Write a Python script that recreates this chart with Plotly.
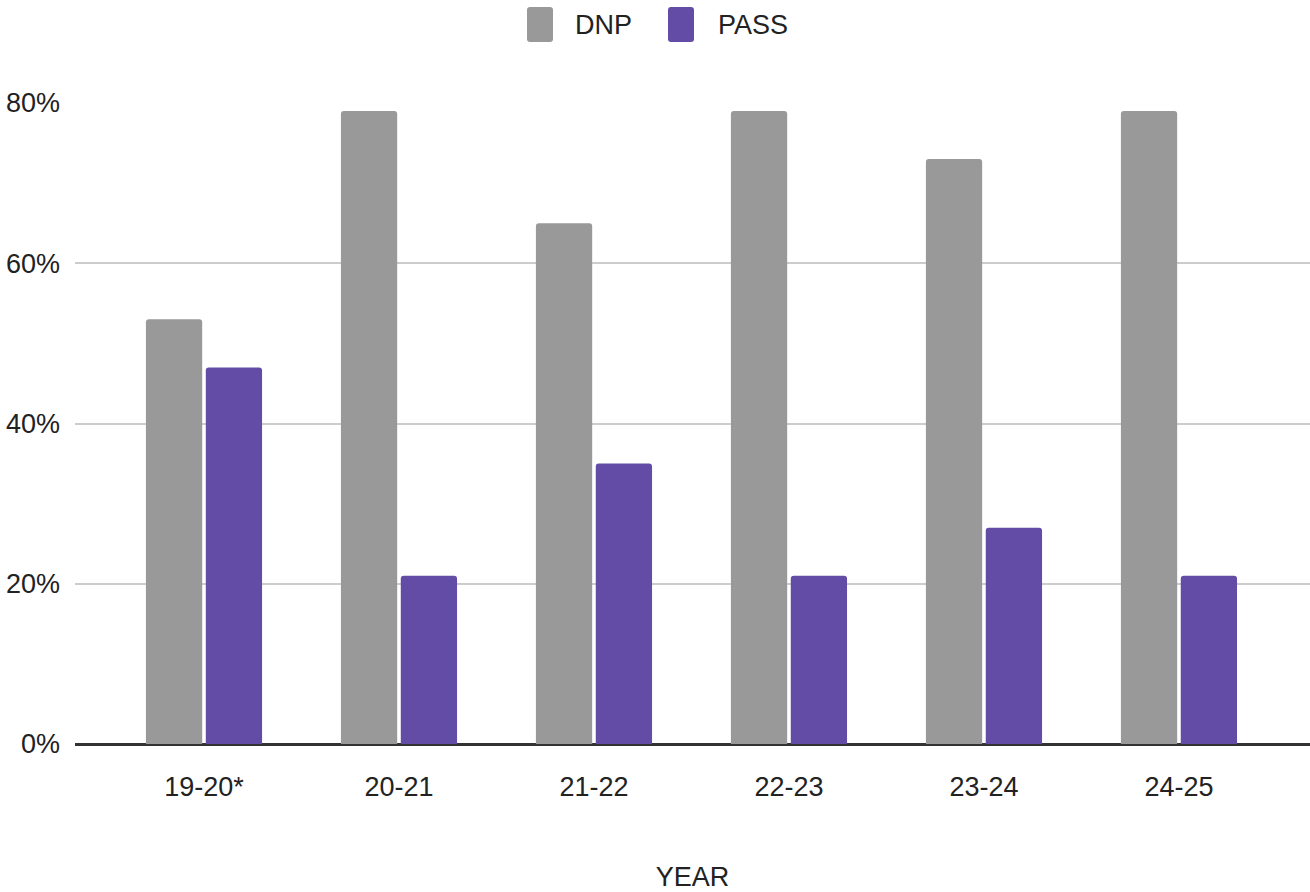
import plotly.graph_objects as go

years = ["19-20*", "20-21", "21-22", "22-23", "23-24", "24-25"]
dnp = [53, 79, 65, 79, 73, 79]
pass_ = [47, 21, 35, 21, 27, 21]
tick_vals = [0, 20, 40, 60, 80]
tick_text = ["0%", "20%", "40%", "60%", "80%"]
series_names = ["DNP", "PASS"]
series_colors = ["#999999", "#634ca5"]

FONT = "Liberation Sans, Arial, sans-serif"
TXT = "#222222"
W, H = 1310, 892

fig = go.Figure()
for name, vals, col in zip(series_names, [dnp, pass_], series_colors):
    fig.add_trace(go.Bar(name=name, x=years, y=vals, marker_color=col,
                         marker_line_width=0, showlegend=False))

# manual legend (pixel-based, converted to paper coordinates)
L, R, T, B = 75, 0, 103, 148
pw, ph = W - L - R, H - T - B
def px_x(x):
    return (x - L) / pw
def px_y(y):
    return (H - B - y) / ph

def rounded_rect(x0, y0, x1, y1, r):
    # pixel coords; y0 top, y1 bottom
    rx, ry = r / pw, r / ph
    X0, X1 = px_x(x0), px_x(x1)
    Y0, Y1 = px_y(y0), px_y(y1)  # Y0 > Y1
    return (f"M{X0+rx},{Y0} L{X1-rx},{Y0} Q{X1},{Y0} {X1},{Y0-ry} L{X1},{Y1+ry} "
            f"Q{X1},{Y1} {X1-rx},{Y1} L{X0+rx},{Y1} Q{X0},{Y1} {X0},{Y1+ry} "
            f"L{X0},{Y0-ry} Q{X0},{Y0} {X0+rx},{Y0} Z")

legend_items = [(527, 573), (668, 716)]
shapes = []
annotations = []
for (sx, tx), name, col in zip(legend_items, series_names, series_colors):
    shapes.append(dict(type="path", xref="paper", yref="paper",
                       path=rounded_rect(sx, 7, sx + 26, 42, 3),
                       fillcolor=col, line=dict(width=0)))
    annotations.append(dict(text=name, xref="paper", yref="paper", x=px_x(tx), y=px_y(25),
                            xanchor="left", yanchor="middle", showarrow=False,
                            font=dict(size=27, color=TXT, family=FONT)))

fig.update_layout(
    width=W, height=H,
    margin=dict(l=L, r=R, t=T, b=B, autoexpand=False),
    paper_bgcolor="white", plot_bgcolor="white",
    barmode="group", bargap=0.386, bargroupgap=0.06, barcornerradius=3,
    font=dict(family=FONT, size=27, color=TXT),
    showlegend=False,
    shapes=shapes, annotations=annotations,
)
fig.update_xaxes(
    type="category", range=[-0.6615, 5.672], showgrid=False, zeroline=False,
    showline=False, ticks="", tickfont=dict(size=27, color=TXT), ticklabelstandoff=24,
    title=dict(text="YEAR", font=dict(size=27, color=TXT), standoff=68),
)
fig.update_yaxes(
    range=[0, 80], tickvals=tick_vals, ticktext=tick_text, showgrid=True,
    gridcolor="#cccccc", gridwidth=2, zeroline=True, zerolinecolor="#333333",
    zerolinewidth=3, showline=False, ticks="", tickfont=dict(size=27, color=TXT),
    ticklabelstandoff=14,
)

fig.write_html("out.html")
